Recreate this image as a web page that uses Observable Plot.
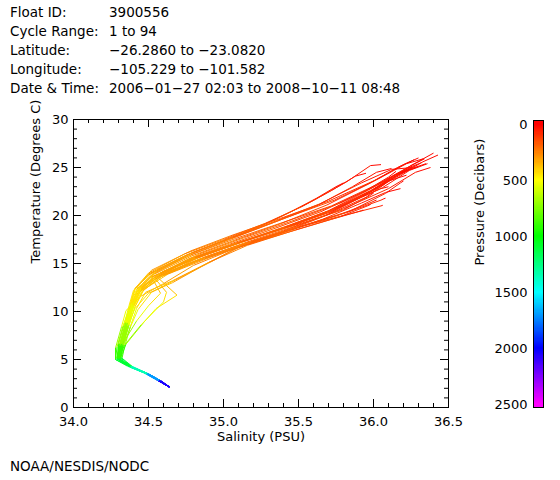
<!DOCTYPE html>
<html><head><meta charset="utf-8">
<script src="https://cdn.jsdelivr.net/npm/d3@7"></script>
<script src="https://cdn.jsdelivr.net/npm/@observablehq/plot@0.6"></script>
<style>
body{margin:0;width:560px;height:480px;position:relative;background:#fff;font-family:"DejaVu Sans",sans-serif;color:#000;overflow:hidden}
.t{position:absolute;white-space:pre;line-height:19px;font-size:13.5px}
#main{position:absolute;left:0;top:100px}
#bar{position:absolute;left:460px;top:100px}
</style></head><body>
<div class="t" style="left:10px;top:3px">Float ID:</div>
<div class="t" style="left:109px;top:3px">3900556</div>
<div class="t" style="left:10px;top:22px">Cycle Range:</div>
<div class="t" style="left:109px;top:22px">1 to 94</div>
<div class="t" style="left:10px;top:41px">Latitude:</div>
<div class="t" style="left:109px;top:41px">−26.2860 to −23.0820</div>
<div class="t" style="left:10px;top:60px">Longitude:</div>
<div class="t" style="left:109px;top:60px">−105.229 to −101.582</div>
<div class="t" style="left:10px;top:79px">Date &amp; Time:</div>
<div class="t" style="left:109px;top:79px">2006−01−27 02:03 to 2008−10−11 08:48</div>
<div id="main"></div>
<div id="bar"></div>
<div class="t" style="left:10px;top:457px">NOAA/NESDIS/NODC</div>
<script>
// Pressure levels (decibars) shared by every profile
const pressure = [5, 30, 60, 110, 170, 220, 280, 340, 410, 480, 600, 800, 1000, 1200, 1500, 1900, 2200];

// Profiles: salinity (PSU) and temperature (deg C) at each pressure level
const sal01 = [36.40, 36.25, 36.02, 35.72, 35.40, 35.08, 34.80, 34.52, 34.41, 34.38, 34.35, 34.31, 34.30, 34.38, 34.49, 34.57, 34.64];
const tmp01 = [26.5, 25.2, 23.2, 21.0, 19.3, 17.6, 16.0, 14.0, 12.4, 10.8, 8.9, 6.6, 5.1, 4.3, 3.55, 2.82, 2.15];
const sal02 = [36.35, 36.20, 35.98, 35.68, 35.38, 35.05, 34.78, 34.55, 34.44, 34.39, 34.36, 34.32, 34.31, 34.39, 34.50, 34.57, 34.635];
const tmp02 = [25.4, 24.6, 22.6, 20.3, 18.6, 16.9, 15.4, 13.7, 12.1, 10.5, 8.6, 6.4, 5.0, 4.2, 3.5, 2.8, 2.15];
const sal03 = [36.28, 36.12, 35.95, 35.70, 35.42, 35.12, 34.90, 34.66, 34.48, 34.42, 34.38, 34.34, 34.32, 34.40, 34.50, 34.58, 34.64];
const tmp03 = [25.2, 23.8, 21.9, 20.1, 18.4, 16.8, 15.1, 13.2, 12.0, 10.3, 8.5, 6.3, 4.9, 4.15, 3.45, 2.75, 2.1];
const sal04 = [36.06, 36.06, 36.05, 35.85, 35.50, 35.18, 34.90, 34.62, 34.45, 34.40, 34.36, 34.31, 34.29, 34.37, 34.49, 34.56, 34.63];
const tmp04 = [21.1, 21.05, 21.0, 20.2, 18.8, 17.3, 15.8, 14.1, 12.5, 10.7, 8.7, 6.5, 5.2, 4.3, 3.55, 2.85, 2.2];
const sal05 = [36.00, 35.99, 35.98, 35.80, 35.48, 35.15, 34.88, 34.58, 34.43, 34.38, 34.34, 34.30, 34.30, 34.38, 34.48, 34.56, 34.63];
const tmp05 = [22.3, 22.25, 22.1, 20.6, 19.0, 17.4, 15.9, 14.0, 12.3, 10.6, 8.8, 6.7, 5.1, 4.25, 3.55, 2.85, 2.2];
const sal06 = [36.05, 35.98, 35.82, 35.58, 35.32, 35.02, 34.76, 34.50, 34.40, 34.37, 34.34, 34.30, 34.29, 34.37, 34.48, 34.56, 34.63];
const tmp06 = [25.3, 25.2, 23.5, 21.4, 19.4, 17.5, 15.9, 13.8, 12.2, 10.6, 8.8, 6.6, 5.1, 4.3, 3.6, 2.85, 2.2];
const sal07 = [35.80, 35.75, 35.62, 35.45, 35.25, 35.00, 34.74, 34.50, 34.41, 34.38, 34.35, 34.31, 34.30, 34.38, 34.49, 34.57, 34.635];
const tmp07 = [23.4, 23.0, 21.8, 20.4, 18.9, 17.4, 15.8, 13.9, 12.3, 10.7, 8.9, 6.7, 5.1, 4.25, 3.5, 2.8, 2.15];
const sal08 = [36.43, 36.33, 36.12, 35.82, 35.50, 35.17, 34.88, 34.60, 34.46, 34.40, 34.37, 34.33, 34.31, 34.39, 34.50, 34.58, 34.64];
const tmp08 = [26.3, 25.6, 23.7, 21.2, 19.2, 17.5, 15.9, 14.2, 12.6, 10.8, 8.8, 6.6, 5.0, 4.2, 3.5, 2.8, 2.15];
const sal09 = [36.32, 36.22, 36.05, 35.78, 35.47, 35.14, 34.84, 34.57, 34.44, 34.39, 34.35, 34.31, 34.30, 34.38, 34.49, 34.57, 34.635];
const tmp09 = [25.5, 24.9, 23.0, 20.9, 19.0, 17.3, 15.7, 13.9, 12.3, 10.6, 8.7, 6.5, 5.0, 4.2, 3.5, 2.8, 2.15];
const sal10 = [36.20, 36.18, 36.08, 35.85, 35.52, 35.20, 34.92, 34.63, 34.47, 34.41, 34.37, 34.33, 34.31, 34.39, 34.50, 34.58, 34.64];
const tmp10 = [23.6, 23.4, 22.3, 20.5, 18.9, 17.3, 15.7, 13.9, 12.3, 10.5, 8.6, 6.4, 4.95, 4.2, 3.5, 2.78, 2.12];
const sal11 = [36.15, 36.10, 35.95, 35.65, 35.35, 35.04, 34.77, 34.53, 34.42, 34.38, 34.35, 34.31, 34.29, 34.37, 34.49, 34.56, 34.63];
const tmp11 = [24.6, 24.0, 22.6, 20.4, 18.7, 17.0, 15.5, 13.6, 12.0, 10.4, 8.6, 6.4, 5.05, 4.3, 3.55, 2.85, 2.2];
const sal12 = [36.25, 36.15, 35.98, 35.72, 35.42, 35.10, 34.82, 34.55, 34.69, 34.55, 34.47, 34.35, 34.31, 34.39, 34.50, 34.57, 34.635];
const tmp12 = [25.0, 24.3, 22.5, 20.4, 18.8, 17.2, 15.7, 13.7, 11.7, 10.3, 8.9, 6.6, 5.0, 4.2, 3.5, 2.8, 2.15];
const sal13 = [36.10, 36.05, 35.92, 35.70, 35.40, 35.08, 34.80, 34.52, 34.58, 34.50, 34.42, 34.33, 34.30, 34.38, 34.49, 34.57, 34.635];
const tmp13 = [23.0, 22.8, 21.9, 20.3, 18.7, 17.1, 15.6, 13.6, 11.9, 10.6, 9.0, 6.7, 5.1, 4.25, 3.5, 2.8, 2.15];
const sal14 = [36.18, 36.08, 35.92, 35.66, 35.36, 35.05, 34.80, 34.60, 34.45, 34.35, 34.32, 34.28, 34.28, 34.36, 34.47, 34.55, 34.625];
const tmp14 = [22.8, 22.4, 21.3, 19.6, 18.0, 16.4, 14.8, 12.9, 11.6, 10.1, 8.4, 6.2, 5.0, 4.3, 3.6, 2.9, 2.25];
const sal15 = [36.30, 36.20, 36.00, 35.70, 35.38, 35.05, 34.78, 34.52, 34.43, 34.40, 34.37, 34.33, 34.31, 34.39, 34.50, 34.58, 34.64];
const tmp15 = [26.0, 25.3, 23.6, 21.5, 19.7, 17.9, 16.3, 14.3, 12.6, 11.0, 9.0, 6.8, 5.3, 4.3, 3.5, 2.8, 2.15];
const sal16 = [36.36, 36.24, 36.06, 35.76, 35.44, 35.12, 34.82, 34.56, 34.44, 34.40, 34.36, 34.32, 34.30, 34.38, 34.49, 34.57, 34.64];
const tmp16 = [25.4, 24.7, 22.9, 20.8, 19.0, 17.3, 15.7, 13.8, 12.2, 10.5, 8.7, 6.5, 5.0, 4.2, 3.5, 2.8, 2.15];
const sal17 = [35.95, 35.88, 35.72, 35.52, 35.28, 35.00, 34.74, 34.50, 34.41, 34.38, 34.35, 34.31, 34.30, 34.38, 34.49, 34.57, 34.635];
const tmp17 = [24.4, 24.1, 22.6, 20.9, 19.2, 17.5, 16.0, 14.0, 12.4, 10.8, 8.9, 6.6, 5.1, 4.25, 3.5, 2.8, 2.15];
const sal18 = [36.02, 36.01, 35.99, 35.76, 35.45, 35.12, 34.84, 34.56, 34.44, 34.39, 34.35, 34.31, 34.29, 34.37, 34.48, 34.56, 34.63];
const tmp18 = [21.6, 21.55, 21.4, 20.0, 18.5, 16.9, 15.4, 13.6, 12.0, 10.4, 8.6, 6.5, 5.1, 4.3, 3.55, 2.85, 2.2];
const sal19 = [36.27, 36.16, 35.97, 35.69, 35.39, 35.07, 34.79, 34.54, 34.43, 34.39, 34.36, 34.32, 34.30, 34.38, 34.49, 34.57, 34.635];
const tmp19 = [25.8, 25.0, 23.3, 21.1, 19.2, 17.4, 15.8, 13.9, 12.3, 10.7, 8.8, 6.6, 5.1, 4.25, 3.5, 2.8, 2.15];
const sal20 = [36.38, 36.28, 36.10, 35.80, 35.48, 35.15, 34.86, 34.58, 34.45, 34.40, 34.36, 34.32, 34.31, 34.39, 34.50, 34.58, 34.64];
const tmp20 = [25.0, 24.5, 22.8, 20.7, 18.9, 17.2, 15.6, 13.8, 12.2, 10.5, 8.6, 6.4, 4.95, 4.2, 3.5, 2.8, 2.15];
const sal21 = [36.12, 36.02, 35.86, 35.62, 35.34, 35.04, 34.78, 34.53, 34.42, 34.38, 34.35, 34.31, 34.30, 34.38, 34.49, 34.57, 34.635];
const tmp21 = [24.9, 24.5, 23.0, 21.0, 19.3, 17.5, 15.9, 13.9, 12.3, 10.7, 8.8, 6.6, 5.1, 4.25, 3.5, 2.8, 2.15];
const sal22 = [35.93, 35.93, 35.92, 35.72, 35.42, 35.10, 34.82, 34.55, 34.42, 34.37, 34.33, 34.29, 34.28, 34.37, 34.48, 34.56, 34.63];
const tmp22 = [20.6, 20.55, 20.5, 19.6, 18.2, 16.7, 15.2, 13.4, 11.8, 10.2, 8.5, 6.3, 5.0, 4.3, 3.55, 2.85, 2.2];
const sal23 = [36.22, 36.10, 35.93, 35.68, 35.40, 35.12, 34.92, 34.68, 34.52, 34.43, 34.38, 34.33, 34.31, 34.39, 34.50, 34.58, 34.64];
const tmp23 = [24.2, 23.6, 22.0, 20.0, 18.4, 16.9, 15.2, 13.3, 12.0, 10.2, 8.4, 6.3, 4.95, 4.2, 3.5, 2.8, 2.15];
const sal24 = [36.33, 36.22, 36.03, 35.74, 35.44, 35.10, 34.80, 34.56, 34.46, 34.41, 34.37, 34.33, 34.31, 34.39, 34.50, 34.57, 34.635];
const tmp24 = [25.9, 25.4, 23.8, 21.6, 19.9, 17.9, 16.2, 14.4, 12.9, 11.2, 9.1, 6.9, 5.2, 4.25, 3.5, 2.8, 2.15];
const sal25 = [36.30, 36.18, 36.00, 35.74, 35.45, 35.13, 34.83, 34.58, 34.46, 34.41, 34.37, 34.33, 34.31, 34.39, 34.50, 34.58, 34.64];
const tmp25 = [25.1, 24.4, 22.7, 20.7, 19.0, 17.3, 15.6, 13.6, 12.1, 10.5, 8.6, 6.5, 5.0, 4.2, 3.5, 2.8, 2.15];
const sal26 = [36.24, 36.14, 35.96, 35.70, 35.41, 35.09, 34.81, 34.54, 34.62, 34.60, 34.45, 34.34, 34.30, 34.38, 34.49, 34.57, 34.635];
const tmp26 = [24.8, 24.2, 22.6, 20.5, 18.8, 17.1, 15.6, 13.5, 12.0, 11.0, 8.6, 6.5, 5.05, 4.25, 3.5, 2.8, 2.15];
const sal27 = [36.08, 36.07, 36.05, 35.82, 35.50, 35.18, 34.88, 34.60, 34.46, 34.40, 34.36, 34.31, 34.30, 34.38, 34.49, 34.57, 34.63];
const tmp27 = [21.8, 21.75, 21.6, 20.3, 18.8, 17.2, 15.6, 13.8, 12.2, 10.5, 8.6, 6.4, 5.0, 4.25, 3.5, 2.8, 2.2];
const sal28 = [36.26, 36.12, 35.92, 35.64, 35.36, 35.06, 34.79, 34.55, 34.44, 34.39, 34.36, 34.32, 34.30, 34.38, 34.49, 34.57, 34.635];
const tmp28 = [25.0, 24.8, 23.4, 21.2, 19.5, 17.7, 16.1, 14.1, 12.5, 10.9, 8.9, 6.7, 5.1, 4.3, 3.5, 2.8, 2.15];
const sal29 = [35.98, 35.98, 35.96, 35.78, 35.48, 35.16, 34.90, 34.66, 34.50, 34.41, 34.36, 34.32, 34.30, 34.38, 34.49, 34.57, 34.63];
const tmp29 = [21.2, 21.15, 21.0, 19.9, 18.5, 16.9, 15.1, 13.0, 11.9, 10.3, 8.5, 6.4, 5.0, 4.25, 3.5, 2.8, 2.2];
const sal30 = [36.34, 36.25, 36.07, 35.78, 35.47, 35.14, 34.84, 34.58, 34.45, 34.40, 34.36, 34.32, 34.30, 34.38, 34.49, 34.57, 34.64];
const tmp30 = [25.9, 25.2, 23.5, 21.3, 19.5, 17.7, 16.0, 14.0, 12.4, 10.7, 8.8, 6.6, 5.05, 4.2, 3.5, 2.8, 2.15];

const profiles = [
  [sal01, tmp01], [sal02, tmp02], [sal03, tmp03], [sal04, tmp04], [sal05, tmp05], [sal06, tmp06],
  [sal07, tmp07], [sal08, tmp08], [sal09, tmp09], [sal10, tmp10], [sal11, tmp11], [sal12, tmp12],
  [sal13, tmp13], [sal14, tmp14], [sal15, tmp15], [sal16, tmp16], [sal17, tmp17], [sal18, tmp18],
  [sal19, tmp19], [sal20, tmp20], [sal21, tmp21], [sal22, tmp22], [sal23, tmp23], [sal24, tmp24],
  [sal25, tmp25], [sal26, tmp26], [sal27, tmp27], [sal28, tmp28], [sal29, tmp29], [sal30, tmp30]
];

// Axis ticks
const xMajor = [34.0, 34.5, 35.0, 35.5, 36.0, 36.5];
const xMinor = [34.1, 34.2, 34.3, 34.4, 34.6, 34.7, 34.8, 34.9, 35.1, 35.2, 35.3, 35.4, 35.6, 35.7, 35.8, 35.9, 36.1, 36.2, 36.3, 36.4];
const yMajor = [0, 5, 10, 15, 20, 25, 30];
const yMinor = [1, 2, 3, 4, 6, 7, 8, 9, 11, 12, 13, 14, 16, 17, 18, 19, 21, 22, 23, 24, 26, 27, 28, 29];
const pressureTicks = [0, 500, 1000, 1500, 2000, 2500];

// Build line segments (each coloured by its mean pressure)
const segments = [];
profiles.forEach(([s, t], k) => {
  for (let i = 0; i < s.length - 1; i++) {
    segments.push({id: k, x1: s[i], y1: t[i], x2: s[i + 1], y2: t[i + 1], p: (pressure[i] + pressure[i + 1]) / 2});
  }
});

const colorScale = {type: "linear", domain: [0, 2500], clamp: true, interpolate: t => d3.hsl(300 * t, 1, 0.5).formatRgb()};
const font = {fontFamily: "DejaVu Sans", fontSize: "13px", background: "transparent", overflow: "visible"};

const W = 460, H = 350, mL = 73, mR = 12, mT = 19, mB = 43;
const iw = W - mL - mR, ih = H - mT - mB;

const main = Plot.plot({
  width: W, height: H,
  marginLeft: mL, marginRight: mR, marginTop: mT, marginBottom: mB,
  style: font,
  x: {domain: [34, 36.5]},
  y: {domain: [0, 30]},
  color: colorScale,
  marks: [
    Plot.link(segments, {x1: "x1", y1: "y1", x2: "x2", y2: "y2", stroke: "p", strokeWidth: 1}),
    Plot.ruleX(xMinor, {x: d => d, insetTop: ih - 4}),
    Plot.ruleX(xMinor, {x: d => d, insetBottom: ih - 4}),
    Plot.ruleX(xMajor, {x: d => d, insetTop: ih - 8}),
    Plot.ruleX(xMajor, {x: d => d, insetBottom: ih - 8}),
    Plot.ruleY(yMinor, {y: d => d, insetRight: iw - 4}),
    Plot.ruleY(yMinor, {y: d => d, insetLeft: iw - 4}),
    Plot.ruleY(yMajor, {y: d => d, insetRight: iw - 8}),
    Plot.ruleY(yMajor, {y: d => d, insetLeft: iw - 8}),
    Plot.frame({stroke: "black"}),
    Plot.axisX(xMajor, {anchor: "bottom", tickSize: 0, tickPadding: 9, tickFormat: d3.format(".1f"), label: null}),
    Plot.axisY(yMajor, {anchor: "left", tickSize: 0, tickPadding: 5, label: null}),
    Plot.text(["Salinity (PSU)"], {text: d => d, frameAnchor: "bottom", dy: 33}),
    Plot.text(["Temperature (Degrees C)"], {text: d => d, frameAnchor: "left", rotate: -90, dx: -38})
  ]
});
document.getElementById("main").append(main);

// Colour bar legend
const barStops = d3.range(-35, 2535, 10);
const bar = Plot.plot({
  width: 100, height: 350,
  marginLeft: 73, marginRight: 17, marginTop: 24, marginBottom: 46,
  style: font,
  x: {domain: [0, 1], axis: null},
  y: {domain: [0, 2500], reverse: true},
  color: colorScale,
  marks: [
    Plot.rect(barStops, {x1: 0, x2: 1, y1: d => d, y2: d => d + 10, fill: d => d + 5, shapeRendering: "crispEdges"}),
    Plot.frame({stroke: "black", insetTop: -4, insetBottom: -3}),
    Plot.axisY(pressureTicks, {anchor: "left", tickSize: 0, tickPadding: 6, tickFormat: d3.format("d"), label: null}),
    Plot.text(["Pressure (Decibars)"], {text: d => d, frameAnchor: "left", rotate: -90, dx: -54, dy: 1})
  ]
});
document.getElementById("bar").append(bar);
</script>
</body></html>
